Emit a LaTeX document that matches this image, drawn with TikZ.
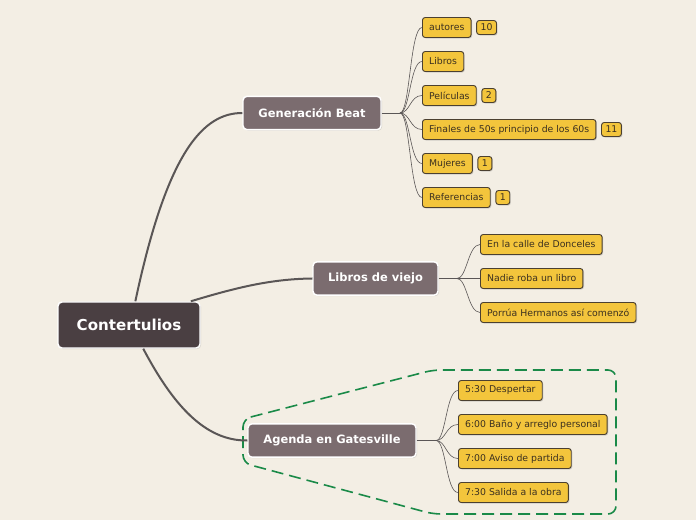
\documentclass[tikz,border=0pt]{standalone}
\usepackage{fontspec}
\setmainfont{DejaVu Sans}
\usetikzlibrary{positioning,shadows}

\definecolor{paper}{HTML}{F3EEE4}
\definecolor{rootfill}{HTML}{4A3F42}
\definecolor{branchfill}{HTML}{7B6C6F}
\definecolor{leaffill}{HTML}{F3C53C}
\definecolor{leafline}{HTML}{4B4030}
\definecolor{leaftext}{HTML}{3B3020}
\definecolor{linkgrey}{HTML}{5A5656}
\definecolor{groupgreen}{HTML}{1A8A48}

\tikzset{
  rootbox/.style={draw=white, line width=1.1pt, fill=rootfill, rounded corners=3pt,
    text=white, font=\fontsize{11.3}{13}\bfseries\selectfont,
    minimum width=106.5pt, minimum height=34.5pt,
    drop shadow={opacity=0.25, shadow xshift=0.8pt, shadow yshift=-0.8pt}},
  branchbox/.style={draw=white, line width=1.1pt, fill=branchfill, rounded corners=3pt,
    text=white, font=\fontsize{8.6}{10}\bfseries\selectfont, minimum height=25pt,
    drop shadow={opacity=0.25, shadow xshift=0.8pt, shadow yshift=-0.8pt}},
  leafbox/.style={draw=leafline, line width=0.7pt, fill=leaffill, rounded corners=2pt,
    text=leaftext, font=\fontsize{7}{8}\selectfont, anchor=west,
    minimum height=15pt, inner xsep=5pt,
    drop shadow={opacity=0.3, shadow xshift=0.8pt, shadow yshift=-0.8pt}},
  countbox/.style={leafbox, minimum height=10.5pt, inner xsep=3pt, inner ysep=1pt},
  mainlink/.style={draw=linkgrey, line width=1.5pt},
  sublink/.style={draw=linkgrey, line width=0.45pt},
}

\begin{document}
\begin{tikzpicture}[x=0.75pt, y=-0.75pt]
  \fill[paper] (0,0) rectangle (696,520);
  \useasboundingbox (0,0) rectangle (696,520);

  % grupo de la agenda
  \draw[groupgreen, line width=1.2pt, dash pattern=on 9pt off 4.5pt, rounded corners=6pt]
    (243,419) -- (433,370) -- (616,370) -- (616,514) -- (433,514) -- (243,463) -- cycle;

  \node[rootbox] (root) at (129,325) {Contertulios};
  \node[branchbox, minimum width=103.5pt] (beat) at (312,113) {Generación Beat};
  \node[branchbox, minimum width=93.75pt] (viejo) at (375.5,278.5) {Libros de viejo};
  \node[branchbox, minimum width=126pt] (agenda) at (332,440.5) {Agenda en Gatesville};

  \draw[mainlink] (root.75) .. controls (167,152) and (203,113) .. (beat.west);
  \draw[mainlink] (root.21) .. controls (235,288) and (270,279) .. (viejo.west);
  \draw[mainlink] (root.-59) .. controls (173,405) and (205,441) .. (agenda.west);

  % Generacion Beat
  \coordinate (beatfork) at (400,113);
  \node[leafbox] (autores) at (422,27.5) {autores\hspace{6pt}};
  \node[leafbox] (libros) at (422,61.5) {Libros};
  \node[leafbox] (peliculas) at (422,95.5) {Películas};
  \node[leafbox] (finales) at (422,129.5) {Finales de 50s principio de los 60s};
  \node[leafbox] (mujeres) at (422,163.5) {Mujeres};
  \node[leafbox] (referencias) at (422,197.5) {Referencias};
  \node[countbox, right=3.5pt of autores] (nautores) {10};
  \node[countbox, right=3.5pt of peliculas] (npeliculas) {2};
  \node[countbox, right=3.5pt of finales] (nfinales) {11};
  \node[countbox, right=3.5pt of mujeres] (nmujeres) {1};
  \node[countbox, right=3.5pt of referencias] (nreferencias) {1};
  \draw[sublink] (beat.east) -- (beatfork);
  \foreach \leaf in {autores,libros,peliculas,finales,mujeres,referencias}
    \draw[sublink] (beatfork) .. controls +(10,0) and +(-12,0) .. (\leaf.west);

  % Libros de viejo
  \coordinate (viejofork) at (457,278.5);
  \node[leafbox] (donceles) at (480,244.5) {En la calle de Donceles};
  \node[leafbox] (nadie) at (480,278.5) {Nadie roba un libro};
  \node[leafbox] (porrua) at (480,312.5) {Porrúa Hermanos así comenzó};
  \draw[sublink] (viejo.east) -- (viejofork);
  \foreach \leaf in {donceles,nadie,porrua}
    \draw[sublink] (viejofork) .. controls +(10,0) and +(-12,0) .. (\leaf.west);

  % Agenda en Gatesville
  \coordinate (agendafork) at (436,440.5);
  \node[leafbox] (despertar) at (458,390.5) {5:30 Despertar};
  \node[leafbox] (bano) at (458,424.5) {6:00 Baño y arreglo personal};
  \node[leafbox] (aviso) at (458,458.5) {7:00 Aviso de partida};
  \node[leafbox] (salida) at (458,492.5) {7:30 Salida a la obra};
  \draw[sublink] (agenda.east) -- (agendafork);
  \foreach \leaf in {despertar,bano,aviso,salida}
    \draw[sublink] (agendafork) .. controls +(10,0) and +(-12,0) .. (\leaf.west);
\end{tikzpicture}
\end{document}
